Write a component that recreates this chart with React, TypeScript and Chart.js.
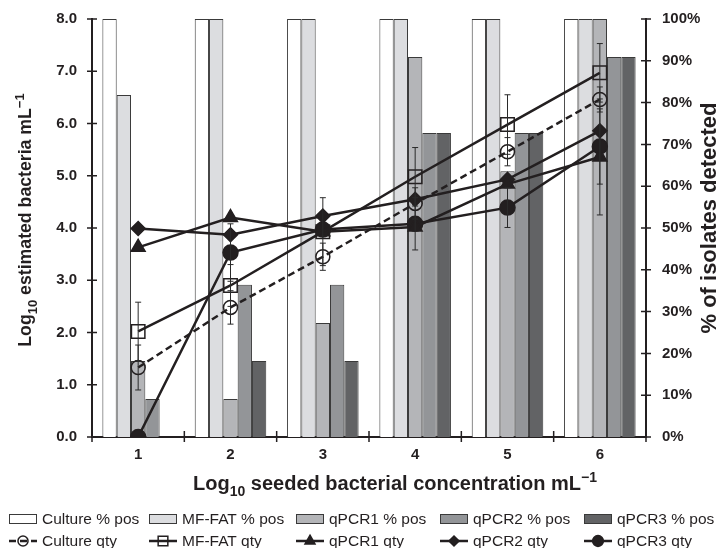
import React, { useEffect, useRef } from "react";
import { Chart, registerables } from "chart.js";

Chart.register(...registerables);

// ---------- data ----------
const categories = ["1", "2", "3", "4", "5", "6"];

const culturePos = [100, 100, 100, 100, 100, 100];
const mfFatPos = [81.8, 100, 100, 100, 100, 100];
const qpcr1Pos = [18.2, 9.1, 27.3, 90.9, 63.6, 100];
const qpcr2Pos = [9.1, 36.4, 36.4, 72.7, 72.7, 90.9];
const qpcr3Pos = [0, 18.2, 18.2, 72.7, 72.7, 90.9];

const cultureQty = [1.33, 2.48, 3.45, 4.47, 5.46, 6.46];
const mfFatQty = [2.02, 2.9, 3.93, 4.98, 5.98, 6.97];
const qpcr1Qty = [3.63, 4.2, 3.93, 4.02, 4.84, 5.36];
const qpcr2Qty = [3.99, 3.87, 4.23, 4.55, 4.93, 5.86];
const qpcr3Qty = [0, 3.53, 3.97, 4.08, 4.39, 5.56];

const cultureErr = [0.43, 0.32, 0.26, 0.3, 0.27, 0.24];
const mfFatErr = [0.56, 0.4, 0.65, 0.56, 0.57, 0.56];
const qpcr1Err = [0, 0, 0, 0, 0, 1.11];
const qpcr2Err = [0, 0, 0, 0, 0, 0];
const qpcr3Err = [0, 0.55, 0, 0.5, 0.38, 0.72];

const leftMin = 0;
const leftMax = 8;
const leftStep = 1;
const rightMin = 0;
const rightMax = 100;
const rightStep = 10;

type Seg = { t: string; k?: "sub" | "sup" };
const leftTitle: Seg[] = [
  { t: "Log" },
  { t: "10", k: "sub" },
  { t: " estimated bacteria mL" },
  { t: "\u22121", k: "sup" },
];
const rightTitle: Seg[] = [{ t: "% of isolates detected" }];
const bottomTitle: Seg[] = [
  { t: "Log" },
  { t: "10", k: "sub" },
  { t: " seeded bacterial concentration mL" },
  { t: "\u22121", k: "sup" },
];

// ---------- styles ----------
const FAMILY = '"Liberation Sans", Arial, Helvetica, sans-serif';
const INK = "#231f20";
const BAR_BORDER = "#3a3a3a";

function drawRich(
  ctx: CanvasRenderingContext2D,
  segs: Seg[],
  cx: number,
  cy: number,
  rot: number,
  size: number
) {
  ctx.save();
  ctx.translate(cx, cy);
  ctx.rotate(rot);
  const main = `bold ${size}px ${FAMILY}`;
  const small = `bold ${Math.round(size * 0.72)}px ${FAMILY}`;
  let w = 0;
  segs.forEach((s) => {
    ctx.font = s.k ? small : main;
    w += ctx.measureText(s.t).width;
  });
  let x = -w / 2;
  ctx.textAlign = "left";
  ctx.textBaseline = "alphabetic";
  ctx.fillStyle = INK;
  const base = size * 0.36;
  segs.forEach((s) => {
    ctx.font = s.k ? small : main;
    const dy = s.k === "sub" ? size * 0.3 : s.k === "sup" ? -size * 0.42 : 0;
    ctx.fillText(s.t, x, base + dy);
    x += ctx.measureText(s.t).width;
  });
  ctx.restore();
}

function drawMarker(
  ctx: CanvasRenderingContext2D,
  style: string,
  x: number,
  y: number,
  r: number,
  fill: string
) {
  ctx.beginPath();
  if (style === "circle") {
    ctx.arc(x, y, r, 0, Math.PI * 2);
  } else if (style === "rect") {
    const s = r * Math.SQRT1_2;
    ctx.rect(x - s, y - s, 2 * s, 2 * s);
  } else if (style === "triangle") {
    const h = r * 1.5;
    const half = (r * Math.sqrt(3)) / 2;
    ctx.moveTo(x, y - r);
    ctx.lineTo(x + half, y - r + h);
    ctx.lineTo(x - half, y - r + h);
    ctx.closePath();
  } else if (style === "rectRot") {
    ctx.moveTo(x, y - r);
    ctx.lineTo(x + r, y);
    ctx.lineTo(x, y + r);
    ctx.lineTo(x - r, y);
    ctx.closePath();
  }
  ctx.fillStyle = fill;
  ctx.fill();
  ctx.strokeStyle = INK;
  ctx.lineWidth = 1.5;
  ctx.stroke();
}

const decorPlugin = {
  id: "decor",
  afterDatasetsDraw(chart: any) {
    const { ctx, scales } = chart;
    const y = scales.y;
    ctx.save();
    ctx.strokeStyle = "#2a2a2a";
    ctx.lineWidth = 1;
    chart.data.datasets.forEach((ds: any, di: number) => {
      if (!ds.errors) return;
      const meta = chart.getDatasetMeta(di);
      meta.data.forEach((pt: any, i: number) => {
        const e = ds.errors[i];
        if (!e) return;
        const v = ds.data[i];
        const top = y.getPixelForValue(v + e);
        const bot = y.getPixelForValue(v - e);
        const x = pt.x;
        ctx.beginPath();
        ctx.moveTo(x, top);
        ctx.lineTo(x, bot);
        ctx.moveTo(x - 3, top);
        ctx.lineTo(x + 3, top);
        ctx.moveTo(x - 3, bot);
        ctx.lineTo(x + 3, bot);
        ctx.stroke();
      });
    });
    ctx.restore();
  },
  afterDraw(chart: any) {
    const { ctx, chartArea: a, scales } = chart;
    const { x, y, y2 } = scales;
    ctx.save();
    // tick marks crossing the axes
    ctx.strokeStyle = INK;
    ctx.lineWidth = 1.5;
    ctx.beginPath();
    y.ticks.forEach((_t: any, i: number) => {
      const py = y.getPixelForTick(i);
      ctx.moveTo(a.left - 5, py);
      ctx.lineTo(a.left + 5, py);
    });
    y2.ticks.forEach((_t: any, i: number) => {
      const py = y2.getPixelForTick(i);
      ctx.moveTo(a.right - 5, py);
      ctx.lineTo(a.right + 5, py);
    });
    for (let i = 0; i <= categories.length; i++) {
      const px = x.getPixelForValue(i - 0.5);
      ctx.moveTo(px, a.bottom - 6);
      ctx.lineTo(px, a.bottom + 5);
    }
    ctx.stroke();

    // axis titles
    drawRich(ctx, leftTitle, 17, (a.top + a.bottom) / 2 - 8, -Math.PI / 2, 17.7);
    drawRich(ctx, rightTitle, 700, (a.top + a.bottom) / 2 - 10, -Math.PI / 2, 22);
    drawRich(ctx, bottomTitle, 387, a.bottom + 46, 0, 20);

    // legend
    const cols = [1, 141, 288, 432, 576];
    const rows = [511, 533];
    const bars = chart.data.datasets.filter((d: any) => d.type === "bar");
    const lines = chart.data.datasets.filter((d: any) => d.type === "line");
    const legendFont = `15.5px ${FAMILY}`;
    ctx.font = legendFont;
    ctx.textBaseline = "middle";
    ctx.textAlign = "left";
    bars.forEach((d: any, i: number) => {
      const cx = cols[i];
      const cy = rows[0];
      ctx.fillStyle = d.backgroundColor;
      ctx.fillRect(cx, cy - 5, 28, 10);
      ctx.strokeStyle = BAR_BORDER;
      ctx.lineWidth = 1;
      ctx.strokeRect(cx + 0.5, cy - 4.5, 27, 9);
      ctx.fillStyle = INK;
      ctx.fillText(d.label, cx + 33, cy + 1);
    });
    lines.forEach((d: any, i: number) => {
      const cx = cols[i];
      const cy = rows[1];
      ctx.save();
      ctx.strokeStyle = INK;
      ctx.lineWidth = 2.5;
      ctx.setLineDash(d.borderDash || []);
      ctx.beginPath();
      ctx.moveTo(cx, cy);
      ctx.lineTo(cx + 28, cy);
      ctx.stroke();
      ctx.restore();
      drawMarker(ctx, d.pointStyle, cx + 14, cy, d.pointRadius * 0.72, d.pointBackgroundColor);
      ctx.fillStyle = INK;
      ctx.font = legendFont;
      ctx.fillText(d.label, cx + 33, cy + 1);
    });
    ctx.restore();
  },
};

export default function App() {
  const ref = useRef<HTMLCanvasElement | null>(null);

  useEffect(() => {
    if (!ref.current) return;
    const barCommon = {
      type: "bar" as const,
      yAxisID: "y2",
      borderColor: BAR_BORDER,
      borderWidth: 1,
      categoryPercentage: 0.775,
      barPercentage: 1,
      order: 2,
    };
    const lineCommon = {
      type: "line" as const,
      yAxisID: "y",
      borderColor: INK,
      borderWidth: 2.5,
      pointBorderColor: INK,
      pointBorderWidth: 1.5,
      tension: 0,
      fill: false,
      order: 1,
    };
    const tickFont = { family: FAMILY, size: 15, weight: "bold" as const };
    const noGrid = { display: false, drawTicks: false, tickLength: 0 };
    const chart = new Chart(ref.current, {
      type: "bar",
      data: {
        labels: categories,
        datasets: [
          { ...barCommon, label: "Culture % pos", data: culturePos, backgroundColor: "#ffffff" },
          { ...barCommon, label: "MF-FAT % pos", data: mfFatPos, backgroundColor: "#dcdde0" },
          { ...barCommon, label: "qPCR1 % pos", data: qpcr1Pos, backgroundColor: "#b4b5b8" },
          { ...barCommon, label: "qPCR2 % pos", data: qpcr2Pos, backgroundColor: "#939598" },
          { ...barCommon, label: "qPCR3 % pos", data: qpcr3Pos, backgroundColor: "#626365" },
          {
            ...lineCommon,
            label: "Culture qty",
            data: cultureQty,
            borderDash: [7, 4],
            pointStyle: "circle",
            pointRadius: 7,
            pointBackgroundColor: "rgba(255,255,255,0)",
            errors: cultureErr,
          } as any,
          {
            ...lineCommon,
            label: "MF-FAT qty",
            data: mfFatQty,
            pointStyle: "rect",
            pointRadius: 9.5,
            pointBackgroundColor: "rgba(255,255,255,0)",
            errors: mfFatErr,
          } as any,
          {
            ...lineCommon,
            label: "qPCR1 qty",
            data: qpcr1Qty,
            pointStyle: "triangle",
            pointRadius: 8,
            pointBackgroundColor: INK,
            errors: qpcr1Err,
          } as any,
          {
            ...lineCommon,
            label: "qPCR2 qty",
            data: qpcr2Qty,
            pointStyle: "rectRot",
            pointRadius: 7,
            pointBackgroundColor: INK,
            errors: qpcr2Err,
          } as any,
          {
            ...lineCommon,
            label: "qPCR3 qty",
            data: qpcr3Qty,
            pointStyle: "circle",
            pointRadius: 7.5,
            pointBackgroundColor: INK,
            errors: qpcr3Err,
          } as any,
        ],
      },
      options: {
        animation: false,
        responsive: true,
        maintainAspectRatio: false,
        layout: { padding: { top: 8, left: 0, right: 0, bottom: 0 } },
        plugins: {
          legend: { display: false },
          tooltip: { enabled: false },
        },
        scales: {
          x: {
            offset: true,
            grid: { ...noGrid, offset: true },
            border: { display: true, color: INK, width: 2 },
            ticks: { font: tickFont, color: INK, padding: 9 },
            afterFit: (s: any) => {
              s.height = 111;
              s.paddingLeft = 0;
              s.paddingRight = 0;
            },
          },
          y: {
            position: "left",
            min: leftMin,
            max: leftMax,
            grid: noGrid,
            border: { display: true, color: INK, width: 2 },
            ticks: {
              stepSize: leftStep,
              font: tickFont,
              color: INK,
              padding: 15,
              callback: (v: any) => Number(v).toFixed(1),
            },
            afterFit: (s: any) => {
              s.width = 84;
              s.paddingTop = 0;
              s.paddingBottom = 0;
            },
          },
          y2: {
            position: "right",
            min: rightMin,
            max: rightMax,
            grid: noGrid,
            border: { display: true, color: INK, width: 2 },
            ticks: {
              stepSize: rightStep,
              font: tickFont,
              color: INK,
              padding: 16,
              callback: (v: any) => `${v}%`,
            },
            afterFit: (s: any) => {
              s.width = 71;
              s.paddingTop = 0;
              s.paddingBottom = 0;
            },
          },
        },
      },
      plugins: [decorPlugin],
    });
    return () => chart.destroy();
  }, []);

  return (
    <div style={{ position: "relative", width: 709, height: 540 }}>
      <canvas ref={ref} />
    </div>
  );
}
